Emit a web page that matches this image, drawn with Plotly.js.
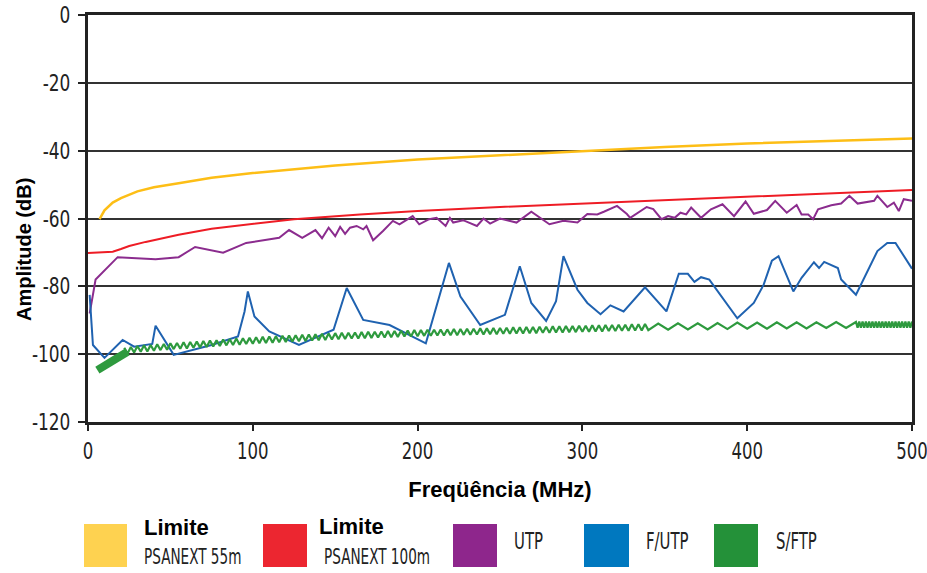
<!DOCTYPE html>
<html>
<head>
<meta charset="utf-8">
<script src="https://cdn.plot.ly/plotly-3.0.1.min.js"></script>
<style>html,body{margin:0;padding:0;background:#fff;}#chart{width:927px;height:573px;}</style>
</head>
<body>
<div id="chart"></div>
<script>
// ---------------- DATA ----------------
var xTickVals = [0, 100, 200, 300, 400, 500];
var yTickVals = [0, -20, -40, -60, -80, -100, -120];

var seriesNames = ["Limite PSANEXT 55m", "Limite PSANEXT 100m", "UTP", "F/UTP", "S/FTP"];

var psanext55Freq = [7, 10, 15, 20, 30, 40, 55, 75, 100, 150, 200, 250, 300, 350, 400, 450, 500];
var psanext55Db   = [-60.2, -57.6, -55.3, -54, -52, -50.8, -49.6, -48, -46.6, -44.4, -42.6, -41.3, -40, -38.9, -37.9, -37.1, -36.4];

var psanext100Freq = [0, 15, 20, 25, 35, 55, 75, 100, 125, 165, 200, 250, 300, 325, 400, 450, 500];
var psanext100Db   = [-70.2, -69.8, -69, -68.1, -66.9, -64.8, -63, -61.5, -60.2, -58.8, -57.8, -56.6, -55.6, -55, -53.4, -52.5, -51.6];

var utpFreq = [1, 4.6, 18, 41, 55, 65, 82, 96, 116, 122, 130, 138, 142, 146, 150, 153, 156, 159, 163, 167, 169, 173, 179, 185, 189, 197, 201, 207, 211.5, 217, 219.6, 221.6, 227.6, 236, 240, 244, 250, 260, 269, 280, 288.5, 297, 303, 309, 313, 321, 327, 329, 339, 343, 348, 352, 356, 359.5, 363, 366, 372, 378, 385, 392, 399, 404, 412, 417, 424, 430, 433, 437, 440, 443, 451, 457, 462, 467, 477, 479, 485, 489, 492, 495, 500];
var utpDb   = [-88, -78, -71.4, -72, -71.4, -68.4, -70.1, -67.2, -65.7, -63.4, -65.7, -63.4, -65.8, -62.7, -65.2, -62.5, -64.5, -62.7, -62.2, -63.2, -62.2, -66.4, -63.7, -60.7, -61.7, -59.3, -61.7, -60.2, -59.8, -62.2, -59.8, -61.2, -60.5, -62.2, -60, -61.5, -60, -61.2, -58, -61.7, -60.7, -61.2, -58.7, -58.8, -58, -56.3, -58.7, -59.8, -56.6, -57.2, -60.2, -59.3, -59.8, -58.3, -58.8, -56.8, -59.8, -57.3, -55.8, -59.3, -55, -58.6, -57.5, -54.8, -58.3, -56, -58.8, -58.8, -60.2, -57.3, -56.1, -55.6, -53.3, -55.6, -54.8, -53.3, -56.6, -55.3, -57.8, -54.3, -54.8];

var futpFreq = [1, 3, 10, 21, 28, 39, 41, 52, 75, 91, 95, 97, 101, 110, 128, 149, 157, 167, 183, 205, 219, 226, 238, 253, 262, 269, 278, 284, 288.5, 297, 303, 311, 317, 325, 338, 351, 358.5, 364, 368, 372, 377, 394, 404, 410, 415, 419, 428, 433, 440.5, 443.6, 446.7, 455, 457, 466, 479, 485, 490, 500];
var futpDb   = [-82.5, -97.3, -101.1, -95.8, -97.8, -97, -91.6, -100.2, -97.3, -94.8, -87.4, -81.5, -88.9, -93.3, -97.3, -92.8, -80.5, -89.9, -91.4, -96.8, -73.1, -83, -91.4, -88.4, -74.1, -84.9, -90.2, -84.4, -71.1, -81, -84.9, -88.2, -85.6, -87.4, -80.3, -87.4, -76.3, -76.3, -78.7, -77.3, -78, -89.4, -84.9, -79.5, -72.4, -71.1, -81.5, -77.5, -72.9, -74.6, -72.8, -74.6, -78, -82.5, -69.6, -67.2, -67.2, -74.8];

// S/FTP: heavy initial segment
var sftpStartFreq = [5.7, 24];
var sftpStartDb   = [-104.7, -99.3];

// S/FTP: ripple
var sftpFreq = [22, 24, 26, 28, 30, 32, 34, 36, 38, 40, 42, 44, 46, 48, 50, 52, 54, 56, 58, 60,
  62, 64, 66, 68, 70, 72, 74, 76, 78, 80, 82, 84, 86, 88, 90, 92, 94, 96, 98, 100,
  102, 104, 106, 108, 110, 112, 114, 116, 118, 120, 122, 124, 126, 128, 130, 132, 134, 136, 138, 140,
  142, 144, 146, 148, 150, 152, 154, 156, 158, 160, 162, 164, 166, 168, 170, 172, 174, 176, 178, 180,
  182, 184, 186, 188, 190, 192, 194, 196, 198, 200, 202, 204, 206, 208, 210, 212, 214, 216, 218, 220,
  222, 224, 226, 228, 230, 232, 234, 236, 238, 240, 242, 244, 246, 248, 250, 252, 254, 256, 258, 260,
  262, 264, 266, 268, 270, 272, 274, 276, 278, 280, 282, 284, 286, 288, 290, 292, 294, 296, 298, 300,
  302, 304, 306, 308, 310, 312, 314, 316, 318, 320, 322, 324, 326, 328, 330, 332, 334, 336, 338, 340,
  346, 352, 358, 364, 370, 376, 382, 388, 394, 400, 406, 412, 418, 424, 430, 436, 442, 448, 454, 460, 466,
  467, 468, 469, 470, 471, 472, 473, 474, 475, 476, 477, 478, 479, 480, 481, 482, 483, 484, 485, 486,
  487, 488, 489, 490, 491, 492, 493, 494, 495, 496, 497, 498, 499, 500];
var sftpDb = [-98.1, -99.8, -97.9, -99.5, -97.6, -99.3, -97.4, -99.2, -97.3, -99.0, -97.1, -98.8, -97.0, -98.7, -96.8, -98.5, -96.7, -98.4, -96.5, -98.3,
  -96.4, -98.1, -96.3, -98.0, -96.1, -97.9, -96.0, -97.7, -95.9, -97.6, -95.7, -97.4, -95.6, -97.3, -95.4, -97.2, -95.3, -97.0, -95.2, -96.9,
  -95.0, -96.8, -94.9, -96.7, -94.8, -96.6, -94.7, -96.5, -94.6, -96.4, -94.5, -96.3, -94.4, -96.2, -94.3, -96.1, -94.2, -96.0, -94.1, -95.9,
  -94.0, -95.8, -93.9, -95.7, -93.8, -95.6, -93.7, -95.5, -93.7, -95.4, -93.6, -95.4, -93.5, -95.3, -93.4, -95.2, -93.4, -95.1, -93.3, -95.1,
  -93.2, -95.0, -93.2, -94.9, -93.1, -94.8, -93.0, -94.8, -92.9, -94.7, -92.9, -94.6, -92.8, -94.6, -92.8, -94.5, -92.7, -94.5, -92.7, -94.4,
  -92.6, -94.4, -92.6, -94.3, -92.5, -94.3, -92.5, -94.2, -92.4, -94.2, -92.4, -94.1, -92.3, -94.1, -92.3, -94.0, -92.2, -94.0, -92.1, -93.9,
  -92.1, -93.9, -92.0, -93.8, -92.0, -93.8, -91.9, -93.7, -91.9, -93.7, -91.8, -93.6, -91.8, -93.6, -91.7, -93.5, -91.7, -93.5, -91.6, -93.4,
  -91.6, -93.4, -91.5, -93.3, -91.5, -93.3, -91.4, -93.2, -91.4, -93.2, -91.3, -93.1, -91.3, -93.1, -91.2, -93.0, -91.2, -93.0, -91.1, -92.9,
  -91.0, -92.8, -90.9, -92.7, -90.9, -92.7, -90.8, -92.6, -90.7, -92.5, -90.7, -92.5, -90.6, -92.4, -90.6, -92.4, -90.6, -92.3, -90.5, -92.3, -90.5,
  -92.2, -90.4, -92.2, -90.4, -92.2, -90.4, -92.2, -90.4, -92.2, -90.4, -92.2, -90.4, -92.2, -90.4, -92.2, -90.4, -92.2, -90.4, -92.2, -90.4,
  -92.2, -90.4, -92.2, -90.4, -92.2, -90.4, -92.2, -90.4, -92.2, -90.4, -92.2, -90.4, -92.2, -90.4];

// ---------------- STYLE ----------------
var lineColors   = ["#FDBE16", "#EE1C25", "#8B2C8E", "#1F62B0", "#2E9A3E"];
var swatchColors = ["#FED250", "#EC2630", "#8E268C", "#0078BF", "#249139"];

var W = 927, H = 573;
var M = {l: 88, r: 15, t: 15, b: 151};
var PW = W - M.l - M.r, PH = H - M.t - M.b;
function px(x) { return (x - M.l) / PW; }
function py(y) { return (H - M.b - y) / PH; }

var narrow = "DejaVu Sans Condensed, DejaVu Sans, sans-serif";
var sans = "Liberation Sans, Arial, sans-serif";

var traces = [
  {x: psanext55Freq, y: psanext55Db, name: seriesNames[0], mode: "lines", line: {color: lineColors[0], width: 2.5}},
  {x: psanext100Freq, y: psanext100Db, name: seriesNames[1], mode: "lines", line: {color: lineColors[1], width: 2}},
  {x: utpFreq, y: utpDb, name: seriesNames[2], mode: "lines", line: {color: lineColors[2], width: 2}},
  {x: futpFreq, y: futpDb, name: seriesNames[3], mode: "lines", line: {color: lineColors[3], width: 2}},
  {x: sftpFreq, y: sftpDb, name: seriesNames[4], mode: "lines", line: {color: lineColors[4], width: 2.2}},
  {x: sftpStartFreq, y: sftpStartDb, name: seriesNames[4], mode: "lines", line: {color: lineColors[4], width: 8}, showlegend: false}
];

// legend layout (pixel boxes)
var legendBoxes = [
  {x0: 84, x1: 127}, {x0: 263, x1: 307}, {x0: 453, x1: 497}, {x0: 584, x1: 629}, {x0: 714, x1: 758}
];
var shapes = legendBoxes.map(function (b, i) {
  return {type: "rect", xref: "paper", yref: "paper", x0: px(b.x0), x1: px(b.x1), y0: py(567), y1: py(524),
          fillcolor: swatchColors[i], line: {width: 0}};
});

var narrowLabels = ["PSANEXT 55m", "PSANEXT 100m", "UTP", "F/UTP", "S/FTP"];
function lab(text, x, y, bold, size) {
  return {text: text, xref: "paper", yref: "paper", x: px(x), y: py(y), xanchor: "left", yanchor: "middle",
          showarrow: false,
          font: bold ? {family: sans, size: 22, color: "#000", weight: "bold"} : {family: narrow, size: size || 23, color: "#222"}};
}

var annotations = [
  {text: "Amplitude (dB)", xref: "paper", yref: "paper", x: px(24), y: py(250), xanchor: "center", yanchor: "middle",
   textangle: -90, showarrow: false, font: {family: sans, size: 20, color: "#000", weight: "bold"}},
  lab("Limite", 142, 527, true),
  lab("PSANEXT 55m", 142, 557, false, 21),
  lab("Limite", 317, 526, true),
  lab("PSANEXT 100m", 322, 557, false, 21),
  lab("UTP", 512, 541, false),
  lab("F/UTP", 644, 541, false),
  lab("S/FTP", 774, 541, false)
];

var layout = {
  width: W, height: H,
  margin: M,
  paper_bgcolor: "#fff", plot_bgcolor: "#fff",
  showlegend: false,
  xaxis: {
    range: [0, 500], tickvals: xTickVals, ticktext: xTickVals.map(String),
    showgrid: false, zeroline: false,
    showline: true, linecolor: "#222", linewidth: 3, mirror: true,
    ticks: "outside", ticklen: 6, tickwidth: 2, tickcolor: "#222",
    tickfont: {family: narrow, size: 23, color: "#222"},
    ticklabeloverflow: "allow",
    title: {text: "Freqüência (MHz)", standoff: 20, font: {family: sans, size: 22, color: "#000", weight: "bold"}}
  },
  yaxis: {
    range: [-120, 0], tickvals: yTickVals, ticktext: yTickVals.map(String),
    showgrid: true, gridcolor: "#333", gridwidth: 2, zeroline: false,
    showline: true, linecolor: "#222", linewidth: 3, mirror: true,
    ticks: "outside", ticklen: 7, tickwidth: 2, tickcolor: "#222",
    tickfont: {family: narrow, size: 23, color: "#222"},
    ticklabeloverflow: "allow",
    ticklabelstandoff: 3
  },
  shapes: shapes,
  annotations: annotations
};

// horizontally compress text to mimic the condensed typeface of the original
function squeeze(nodes, s, anchor) {
  nodes.forEach(function (t) {
    var bb = t.getBBox();
    var ax = anchor === "left" ? bb.x : (anchor === "right" ? bb.x + bb.width : bb.x + bb.width / 2);
    var tr = t.getAttribute("transform") || "";
    t.setAttribute("transform", tr + " translate(" + ax + ",0) scale(" + s + ",1) translate(" + (-ax) + ",0)");
  });
}

Plotly.newPlot("chart", traces, layout, {staticPlot: true, displayModeBar: false}).then(function (gd) {
  squeeze(Array.prototype.slice.call(gd.querySelectorAll(".ytick text")), 0.82, "right");
  squeeze(Array.prototype.slice.call(gd.querySelectorAll(".xtick text")), 0.8, "center");
  var ann = Array.prototype.slice.call(gd.querySelectorAll(".annotation-text")).filter(function (t) {
    return narrowLabels.indexOf(t.textContent) >= 0;
  });
  squeeze(ann, 0.72, "left");
});
</script>
</body>
</html>
